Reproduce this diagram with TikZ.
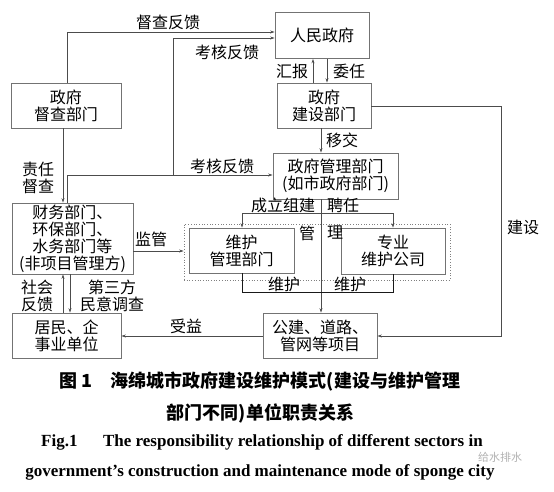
\documentclass[tikz,border=0pt]{standalone}
\usepackage{fontspec}
\setmainfont{Liberation Serif}
\newfontfamily\cjk{Noto Sans CJK SC}
\usetikzlibrary{arrows.meta}
\newcommand{\lpar}{\makebox[9pt][r]{(}}
\newcommand{\rpar}{\makebox[9pt][l]{)}}
\begin{document}
\begin{tikzpicture}[x=1pt,y=-1pt,
  box/.style={draw=black!55, line width=0.8pt, inner sep=0pt, align=center, font=\cjk\fontsize{16}{17}\selectfont},
  lab/.style={inner sep=0pt, align=center, font=\cjk\fontsize{16}{17}\selectfont},
  conn/.style={draw=black!70, line width=0.7pt},
  dark/.style={draw=black!90, line width=0.9pt},
  arr/.style={conn, -{Stealth[length=4.5pt,width=3pt]}},
  dashbox/.style={draw=black!50, dotted, line width=0.7pt, inner sep=0pt},
  capcn/.style={inner sep=0pt, font=\cjk\bfseries\fontsize{18}{20}\selectfont},
  capen/.style={inner sep=0pt, font=\bfseries\fontsize{17}{19}\selectfont},
]
\path[fill=white] (0,0) rectangle (554,491);
\useasboundingbox (0,0) rectangle (554,491);

% boxes
\node[box, minimum width=94pt, minimum height=46pt] (rm) at (322,35.5) {人民政府};
\node[box, minimum width=94pt, minimum height=45pt] (js) at (324,105.5) {政府\\建设部门};
\node[box, minimum width=125pt, minimum height=46pt] (gl) at (335.5,176) {政府管理部门\\\lpar 如市政府部门\rpar};
\node[box, minimum width=110pt, minimum height=45pt] (dc) at (66,105.5) {政府\\督查部门};
\node[box, minimum width=121pt, minimum height=71pt] (cw) at (72.5,238.5) {财务部门、\\环保部门、\\水务部门等\\\lpar 非项目管理方\rpar};
\node[box, minimum width=109pt, minimum height=45pt] (jm) at (66.5,335.5) {居民、企\\事业单位};
\node[dashbox, minimum width=266pt, minimum height=56pt] (db) at (317,252) {};
\node[box, minimum width=105pt, minimum height=45pt] (wh) at (241.5,250.5) {维护\\管理部门};
\node[box, minimum width=104pt, minimum height=46pt] (zy) at (393,251) {专业\\维护公司};
\node[box, minimum width=114pt, minimum height=45pt] (gj) at (320,335.5) {公建、道路、\\管网等项目};

% helper coordinates
\coordinate (a1) at (67,32);
\coordinate (a2) at (67,175);
\coordinate (a3) at (173,175);
\coordinate (a4) at (173,38);
\coordinate (a5) at (63,0);
\coordinate (a6) at (313,0);
\coordinate (a7) at (327,0);
\coordinate (a8) at (321,0);
\coordinate (a9) at (501,106);
\coordinate (a10) at (501,336);
\coordinate (b1) at (242,213);
\coordinate (b2) at (393,213);
\coordinate (b3) at (242,292);
\coordinate (b4) at (393,292);
\coordinate (c1) at (0,251);
\coordinate (c2) at (70,0);
\coordinate (c3) at (0,336);

% connectors
\draw[arr] (dc.north -| a1) -- (a1) -- (rm.west |- a1);
\draw[arr] (cw.north -| a2) -- (a2) -- (gl.west |- a2);
\draw[arr] (a3) -- (a4) -- (rm.west |- a4);
\draw[arr] (dc.south -| a5) -- (cw.north -| a5);
\draw[arr] (js.north -| a6) -- (rm.south -| a6);
\draw[arr] (rm.south -| a7) -- (js.north -| a7);
\draw[arr] (js.south -| a8) -- (gl.north -| a8);
\draw[arr] (js.east |- a9) -- (a9) -- (a10) -- (gj.east |- a10);
\draw[arr] (gl.south -| a8) -- (gj.north -| a8);
\draw[conn] (b1) -- (b2);
\draw[arr] (b1) -- (wh.north -| b1);
\draw[arr] (b2) -- (zy.north -| b2);
\draw[dark] (wh.south -| b3) -- (b3) -- (b4) -- (zy.south -| b4);
\draw[arr] (cw.east |- c1) -- (db.west |- c1);
\draw[arr] (jm.north -| a5) -- (cw.south -| a5);
\draw[arr] (cw.south -| c2) -- (jm.north -| c2);
\draw[arr] (gj.west |- c3) -- (jm.east |- c3);

% labels
\node[lab] (l1) at (168,22) {督查反馈};
\node[lab] (l2) at (227,52) {考核反馈};
\node[lab] (l3) at (222,166) {考核反馈};
\node[lab] (l4) at (38,178) {责任\\督查};
\node[lab] (l5) at (292,71) {汇报};
\node[lab] (l6) at (349,71) {委任};
\node[lab] (l7) at (342,140) {移交};
\node[lab] (l8) at (523,227) {建设};
\node[lab] (l9) at (283,205) {成立组建};
\node[lab] (l10) at (343,205) {聘任};
\node[lab] (l11) at (307,233) {管};
\node[lab] (l12) at (335,233) {理};
\node[lab] (l13) at (284,284) {维护};
\node[lab] (l14) at (350,284) {维护};
\node[lab] (l15) at (151,239) {监管};
\node[lab] (l16) at (37,296) {社会\\反馈};
\node[lab] (l17) at (112,296) {第三方\\民意调查};
\node[lab] (l18) at (186,326) {受益};

% caption
\node[capcn] (cap1) at (260,382) {图 1\hspace{1em}海绵城市政府建设维护模式(建设与维护管理};
\node[capcn] (cap2) at (260.5,413) {部门不同)单位职责关系};
\node[capen] (cap3) at (262,442) {Fig.1\hspace{1.5em}The responsibility relationship of different sectors in};
\node[capen] (cap4) at (260,472) {government’s construction and maintenance mode of sponge city};
\node[inner sep=0pt, text=black!30, font=\cjk\fontsize{11}{12}\selectfont] (wm) at (500,457) {给水排水};
\end{tikzpicture}
\end{document}
